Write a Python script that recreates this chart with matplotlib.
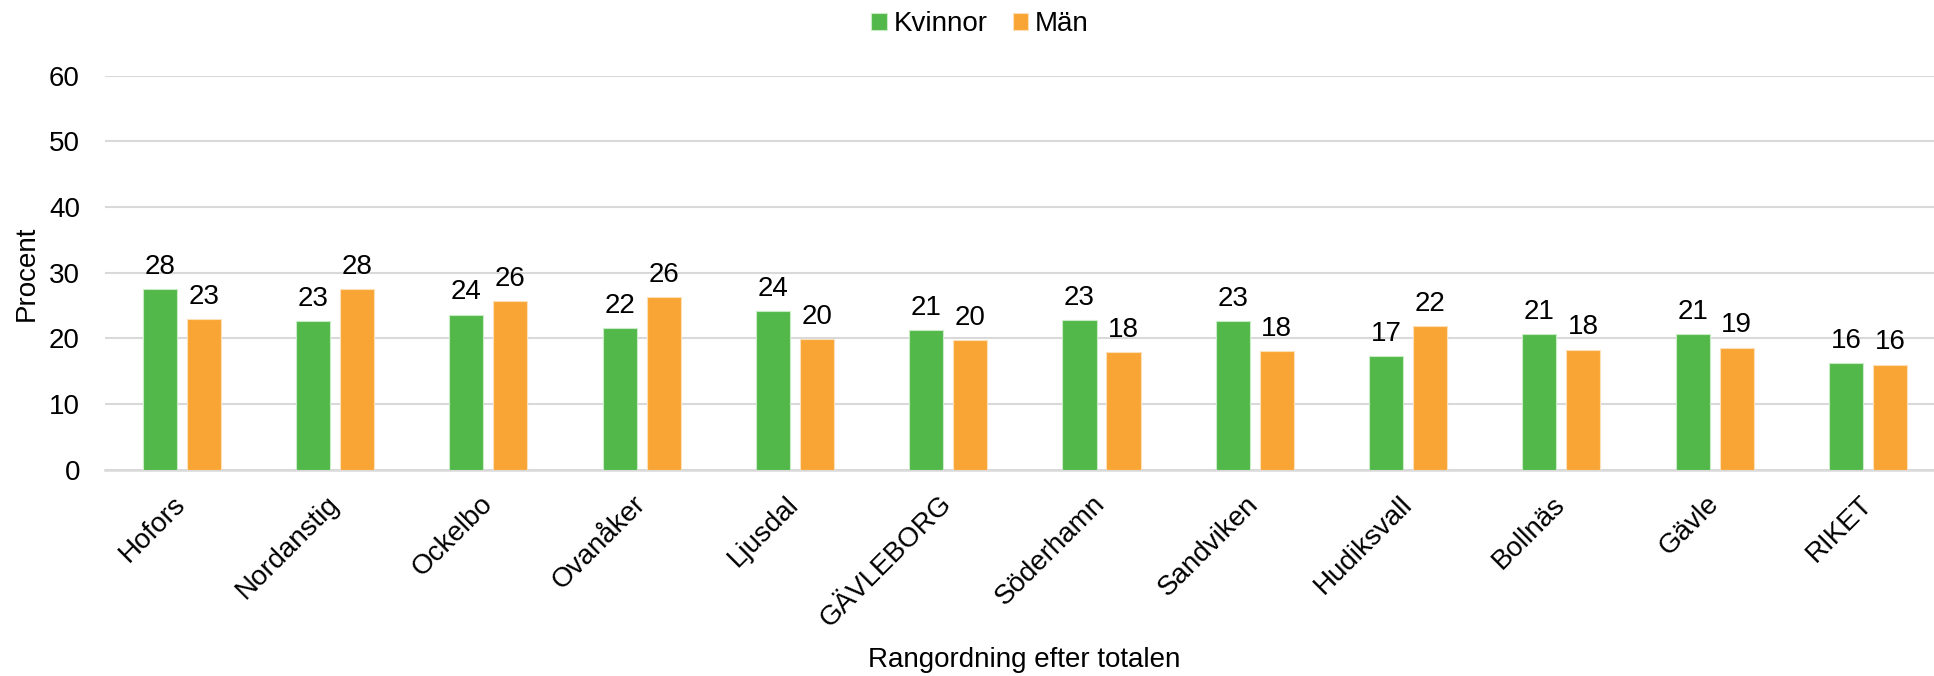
import matplotlib
matplotlib.use("Agg")
import matplotlib.pyplot as plt
import numpy as np

plt.rcParams['font.family'] = ['Liberation Sans', 'DejaVu Sans']

categories = ["Hofors", "Nordanstig", "Ockelbo", "Ovanåker", "Ljusdal", "GÄVLEBORG",
              "Söderhamn", "Sandviken", "Hudiksvall", "Bollnäs", "Gävle", "RIKET"]
kvinnor = [27.5, 22.6, 23.6, 21.6, 24.1, 21.2, 22.8, 22.6, 17.3, 20.6, 20.6, 16.2]
man = [22.9, 27.5, 25.7, 26.3, 19.9, 19.7, 17.9, 18.1, 21.9, 18.3, 18.6, 16.0]
series_names = ["Kvinnor", "Män"]
yticks = [0, 10, 20, 30, 40, 50, 60]

W, H = 1934, 676
FS = 20
fig = plt.figure(figsize=(W / 100, H / 100), dpi=100)
ax = fig.add_axes([105 / W, 1 - 469.7 / H, 1839.7 / W, (469.7 - 75.7) / H])

green = '#52B84A'
orange = '#F9A535'
x = np.arange(len(categories))
off = 0.1435
bw = 0.222
b1 = ax.bar(x - off, kvinnor, bw, color=green, edgecolor='#c8ecc4', linewidth=0.8,
            label=series_names[0], zorder=3)
b2 = ax.bar(x + off, man, bw, color=orange, edgecolor='#fde0b8', linewidth=0.8,
            label=series_names[1], zorder=3)

for bars, vals in ((b1, kvinnor), (b2, man)):
    for r, v in zip(bars, vals):
        ax.annotate(f"{int(round(v))}", (r.get_x() + r.get_width() / 2, v),
                    xytext=(0, 11), textcoords='offset points',
                    ha='center', va='baseline', fontsize=FS, color='#000000')

ax.set_xlim(-0.5, len(categories) - 0.5)
ax.set_ylim(0, 60)
ax.set_yticks(yticks)
ax.set_yticklabels([str(t) for t in yticks], fontsize=FS)
ax.yaxis.grid(True, color='#d9d9d9', linewidth=1.5, zorder=0)
ax.set_axisbelow(True)
for s in ['top', 'right', 'left']:
    ax.spines[s].set_visible(False)
ax.spines['bottom'].set_color('#d9d9d9')
ax.spines['bottom'].set_linewidth(1.8)
ax.tick_params(axis='both', length=0)
ax.tick_params(axis='y', pad=18)
ax.set_xticks(x)
ax.set_xticklabels(categories, rotation=45, ha='right', va='center',
                   rotation_mode='anchor', fontsize=FS)
ax.tick_params(axis='x', pad=22)

fig.text(27 / W, 1 - 273 / H, "Procent", rotation=90, ha='center', va='center',
         fontsize=FS)
fig.text(1024 / W, 1 - 660 / H, "Rangordning efter totalen", ha='center', va='center',
         fontsize=FS)

leg = fig.legend(handles=[b1, b2], labels=series_names, loc='center',
                 bbox_to_anchor=(980 / W, 1 - 24 / H), ncol=2, frameon=False,
                 fontsize=FS, handlelength=0.55, handleheight=0.55,
                 handletextpad=0.25, columnspacing=0.9)

fig.savefig("out.png", dpi=100, facecolor='white')
